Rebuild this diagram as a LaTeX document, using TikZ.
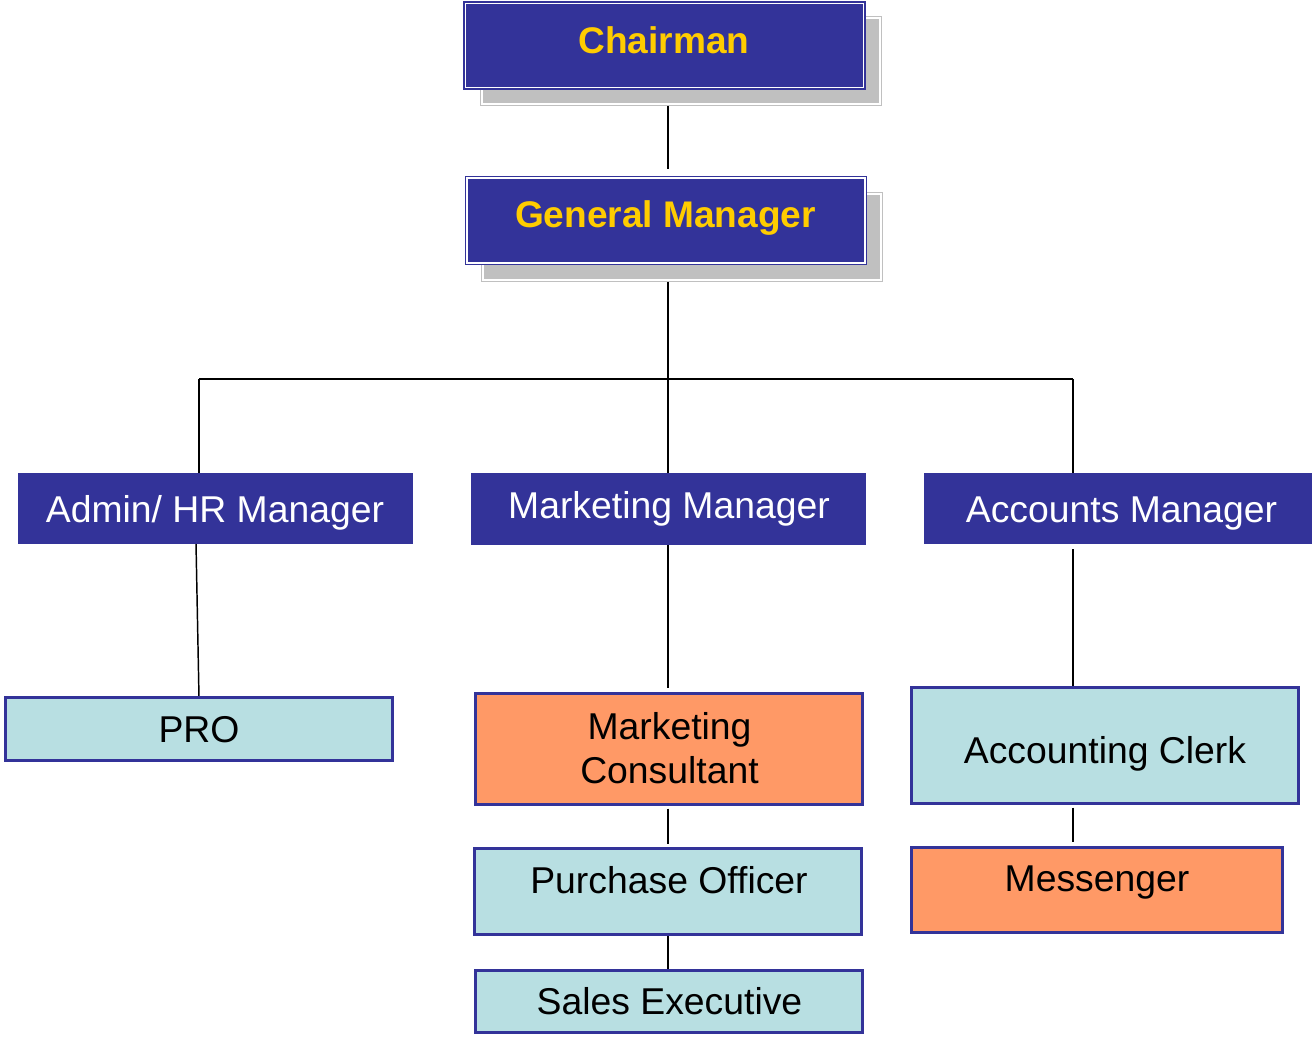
\documentclass[tikz,border=0pt]{standalone}
\usepackage{fontspec}
\setmainfont{Liberation Sans}
\usetikzlibrary{backgrounds}
\definecolor{navy}{HTML}{333399}
\definecolor{gold}{HTML}{FFCC00}
\definecolor{paleblue}{HTML}{B8DFE2}
\definecolor{salmon}{HTML}{FF9966}
\definecolor{shade}{HTML}{C0C0C0}
\tikzset{
  sz/.style 2 args={minimum width=#1*0.75pt, minimum height=#2*0.75pt, inner sep=0pt, outer sep=0pt},
  topbox/.style={draw=navy, double=white, double distance=1.2pt, line width=1.1pt, fill=navy},
  shadowbox/.style={draw=shade, double=white, double distance=1.2pt, line width=1.2pt, fill=shade},
  mgrbox/.style={fill=navy, draw=navy, line width=0.5pt},
  bluebox/.style={fill=paleblue, draw=navy, line width=2.6pt},
  orangebox/.style={fill=salmon, draw=navy, line width=2.6pt},
  toptext/.style={anchor=base, text=gold, font=\fontsize{27.8}{34}\selectfont\bfseries, inner sep=0pt},
  mgrtext/.style={anchor=base, text=white, font=\fontsize{28}{34}\selectfont, inner sep=0pt},
  lowtext/.style={anchor=base, text=black, font=\fontsize{28}{34}\selectfont, inner sep=0pt},
  conn/.style={draw=black, line width=1.1pt},
}
\begin{document}
\begin{tikzpicture}[x=0.75pt, y=-0.75pt]
\useasboundingbox (0,0) rectangle (1312,1041);
% shadows
\node[shadowbox, sz={398}{86}] (chsh) at (681,61) {};
\node[shadowbox, sz={398}{86}] (gmsh) at (682,237) {};
% top boxes
\node[topbox, sz={398}{84}] (ch) at (664.5,45.5) {};
\node[topbox, sz={398}{85}] (gm) at (666,220.5) {};
\node[toptext] (chT) at (664,54) {Chairman};
\node[toptext] (gmT) at (665.5,228) {General Manager};
% managers
\node[mgrbox, sz={394}{70}] (adm) at (215,508) {};
\node[mgrbox, sz={394}{71}] (mm) at (668,508.5) {};
\node[mgrbox, sz={388}{70}] (am) at (1118,508) {};
\node[mgrtext] (admT) at (215,522) {Admin/ HR Manager};
\node[mgrtext] (mmT) at (669,518) {Marketing Manager};
\node[mgrtext] (amT) at (1121.5,522) {Accounts Manager};
% lower boxes
\node[bluebox, sz={387}{63}] (pro) at (199,729) {};
\node[orangebox, sz={387}{111}] (mc) at (669,749) {};
\node[bluebox, sz={387}{86}] (po) at (668,891.5) {};
\node[bluebox, sz={387}{62}] (se) at (669,1001.5) {};
\node[bluebox, sz={387}{116}] (ac) at (1105,745.5) {};
\node[orangebox, sz={371}{85}] (msg) at (1097,890) {};
\node[lowtext] (proT) at (199,742) {PRO};
\node[lowtext] (mcT1) at (669.5,739) {Marketing};
\node[lowtext] (mcT2) at (669.5,783) {Consultant};
\node[lowtext] (poT) at (669,893) {Purchase Officer};
\node[lowtext] (seT) at (669.5,1014) {Sales Executive};
\node[lowtext] (acT) at (1105,763) {Accounting Clerk};
\node[lowtext] (msgT) at (1097,891) {Messenger};
% junctions
\coordinate (busL) at (199,379);
\coordinate (busM) at (668,379);
\coordinate (busR) at (1073,379);
\begin{scope}[on background layer]
\draw[conn] (ch.south -| busM) -- ([yshift=6.75pt]gm.north -| busM);
\draw[conn] (gmsh.south -| busM) -- (busM);
\draw[conn] (busL) -- (busR);
\draw[conn] (busL) -- (adm.north -| busL);
\draw[conn] (busM) -- (mm.north -| busM);
\draw[conn, line width=2.2pt] (busR) -- (am.north -| busR);
\draw[conn] ([xshift=-14.25pt]adm.south) -- (pro.north);
\draw[conn] (mm.south -| busM) -- ([yshift=4.5pt]mc.north -| busM);
\draw[conn] ([yshift=-3pt]mc.south -| busM) -- ([yshift=3.75pt]po.north -| busM);
\draw[conn] (po.south -| busM) -- (se.north -| busM);
\draw[conn] ([yshift=-4.5pt]am.south -| busR) -- (ac.north -| busR);
\draw[conn] ([yshift=-3pt]ac.south -| busR) -- ([yshift=4.5pt]msg.north -| busR);
\end{scope}
\end{tikzpicture}
\end{document}
